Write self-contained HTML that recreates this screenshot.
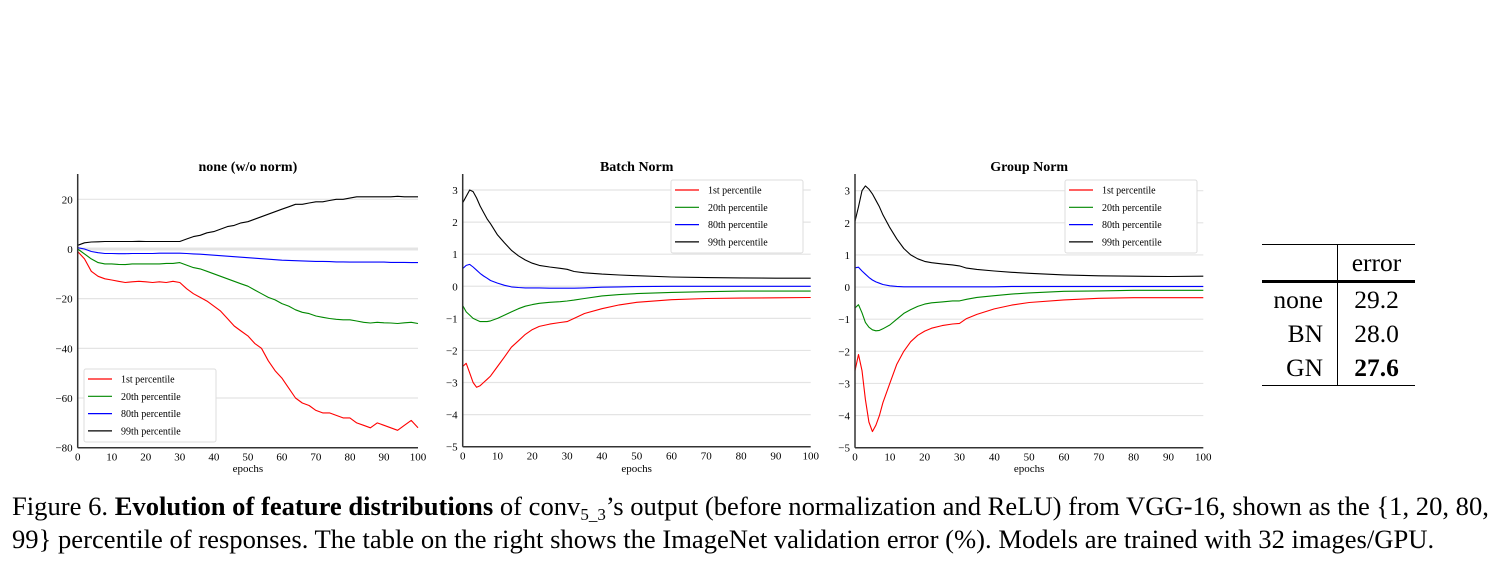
<!DOCTYPE html>
<html><head><meta charset="utf-8"><style>
body{margin:0;background:#fff;width:1504px;height:580px;overflow:hidden;font-family:"Liberation Serif",serif;}
svg{position:absolute;left:0;top:0}
.cap{position:absolute;left:12px;font-size:26.6px;color:#000;white-space:nowrap;line-height:1}
table{position:absolute;left:1262px;top:244px;border-collapse:collapse;font-size:25.5px;width:153px}
td{padding:0;line-height:1}
</style></head><body>
<svg id="s" width="1504" height="580"></svg>
<table style="border-top:1.5px solid #000;border-bottom:1.5px solid #000">
<tr style="height:37px;border-bottom:3px solid #000"><td style="border-right:1.5px solid #000;width:75px"></td><td style="text-align:center">error</td></tr>
<tr style="height:35px"><td style="text-align:right;padding-right:14px;border-right:1.5px solid #000">none</td><td style="text-align:center">29.2</td></tr>
<tr style="height:34px"><td style="text-align:right;padding-right:14px;border-right:1.5px solid #000">BN</td><td style="text-align:center">28.0</td></tr>
<tr style="height:35px"><td style="text-align:right;padding-right:14px;border-right:1.5px solid #000">GN</td><td style="text-align:center;font-weight:bold">27.6</td></tr>
</table>
<div class="cap" style="top:493px">Figure 6. <b>Evolution of feature distributions</b> of conv<span style="font-size:17px;position:relative;top:5px">5_3</span>’s output (before normalization and ReLU) from VGG-16, shown as the {1, 20, 80,</div>
<div class="cap" style="top:526px">99} percentile of responses. The table on the right shows the ImageNet validation error (%). Models are trained with 32 images/GPU.</div>
<script>
const epochsA=[0,2,4,6,8,10,12,14,16,18,20,22,24,26,28,30,32,34,36,38,40,42,44,46,48,50,52,54,56,58,60,62,64,66,68,70,72,74,76,78,80,82,84,86,88,90,92,94,96,98,100];
const noneP1=[-1,-4,-9,-11,-12,-12.5,-13,-13.5,-13.2,-13,-13.2,-13.5,-13.2,-13.5,-13,-13.5,-16,-18,-19.5,-21,-23,-25,-28,-31,-33,-35,-38,-40,-45,-49,-52,-56,-60,-62,-63,-65,-66,-66,-67,-68,-68,-70,-71,-72,-70,-71,-72,-73,-71,-69,-72];
const noneP20=[0,-2,-4,-5.5,-6,-6,-6.2,-6.3,-6,-6,-6,-6,-6,-5.8,-5.8,-5.5,-6.5,-7.5,-8,-9,-10,-11,-12,-13,-14,-15,-16.5,-18,-19.5,-20.5,-22,-23,-24.5,-25.5,-26,-27,-27.5,-28,-28.3,-28.5,-28.5,-29,-29.5,-29.8,-29.5,-29.7,-29.8,-30,-29.7,-29.5,-30];
const noneP80=[0.5,0,-1,-1.5,-1.8,-1.8,-1.9,-1.9,-1.8,-1.8,-1.8,-1.8,-1.7,-1.7,-1.7,-1.7,-1.8,-2,-2.1,-2.3,-2.5,-2.7,-2.9,-3.1,-3.3,-3.5,-3.7,-3.9,-4.1,-4.3,-4.5,-4.6,-4.7,-4.8,-4.9,-5,-5,-5.1,-5.2,-5.2,-5.3,-5.3,-5.3,-5.3,-5.3,-5.3,-5.4,-5.4,-5.4,-5.5,-5.5];
const noneP99=[1.5,2.5,2.8,2.9,3,3,3,3,3,3.1,3,3,3,3,3,3,4,5,5.5,6.5,7,8,9,9.5,10.5,11,12,13,14,15,16,17,18,18,18.5,19,19,19.5,20,20,20.5,21,21,21,21,21,21,21.2,21,21,21];
const epochsB=[0,1,2,3,4,5,6,7,8,10,12,14,16,18,20,22,25,28,30,32,35,40,45,50,60,70,80,90,100];
const bnP1=[-2.5,-2.4,-2.7,-3,-3.15,-3.1,-3.0,-2.9,-2.8,-2.5,-2.2,-1.9,-1.7,-1.5,-1.35,-1.25,-1.18,-1.13,-1.1,-1.0,-0.85,-0.7,-0.58,-0.5,-0.42,-0.38,-0.37,-0.36,-0.35];
const bnP20=[-0.6,-0.8,-0.9,-1.0,-1.05,-1.1,-1.1,-1.1,-1.08,-1.0,-0.9,-0.8,-0.7,-0.62,-0.57,-0.53,-0.5,-0.48,-0.46,-0.43,-0.38,-0.3,-0.26,-0.23,-0.19,-0.17,-0.15,-0.15,-0.15];
const bnP80=[0.55,0.65,0.68,0.6,0.5,0.4,0.32,0.25,0.18,0.1,0.03,-0.02,-0.04,-0.05,-0.05,-0.05,-0.06,-0.06,-0.06,-0.06,-0.05,-0.03,-0.02,-0.01,0,0,0,0,0];
const bnP99=[2.6,2.8,3.0,2.95,2.75,2.5,2.3,2.1,1.95,1.6,1.35,1.12,0.95,0.82,0.72,0.65,0.6,0.56,0.53,0.46,0.42,0.38,0.35,0.33,0.29,0.27,0.26,0.25,0.25];
const gnP1=[-2.6,-2.1,-2.6,-3.5,-4.2,-4.5,-4.3,-4.0,-3.6,-3.0,-2.4,-2.0,-1.7,-1.5,-1.37,-1.28,-1.2,-1.15,-1.13,-0.98,-0.85,-0.68,-0.56,-0.48,-0.4,-0.35,-0.33,-0.33,-0.33];
const gnP20=[-0.65,-0.55,-0.8,-1.1,-1.25,-1.33,-1.36,-1.35,-1.3,-1.18,-1.0,-0.82,-0.7,-0.6,-0.53,-0.49,-0.46,-0.43,-0.43,-0.38,-0.32,-0.27,-0.22,-0.18,-0.13,-0.12,-0.1,-0.1,-0.1];
const gnP80=[0.6,0.62,0.5,0.4,0.3,0.22,0.16,0.12,0.08,0.04,0.02,0.01,0.01,0.01,0.01,0.01,0.01,0.01,0.01,0.01,0.01,0.01,0.02,0.02,0.02,0.02,0.02,0.02,0.02];
const gnP99=[2.05,2.5,3.0,3.15,3.05,2.9,2.7,2.5,2.25,1.85,1.5,1.2,1.0,0.88,0.8,0.76,0.72,0.69,0.66,0.59,0.55,0.5,0.46,0.43,0.38,0.35,0.34,0.33,0.34];
const xTicks=[0,10,20,30,40,50,60,70,80,90,100];
const yTicksA=[20,0,-20,-40,-60,-80];
const yTicksB=[3,2,1,0,-1,-2,-3,-4,-5];
const legendLabels=["1st percentile","20th percentile","80th percentile","99th percentile"];
const colors=["#f00","#080","#00f","#000"];
const NS="http://www.w3.org/2000/svg";
const svg=document.getElementById('s');
function mk(t,a,p){const e=document.createElementNS(NS,t);for(const k in a)e.setAttribute(k,a[k]);(p||svg).appendChild(e);return e;}
const charts=[
 {name:"none",title:"none (w/o norm)",x0:77.7,x1:418,yv0:20,yp0:199.3,yv1:-80,yp1:447.7,top:174,ticks:yTicksA,ep:epochsA,series:[noneP1,noneP20,noneP80,noneP99],leg:[84,369]},
 {name:"batch-norm",title:"Batch Norm",x0:462.7,x1:810.7,yv0:3,yp0:190,yv1:-5,yp1:446.7,top:174,ticks:yTicksB,ep:epochsB,series:[bnP1,bnP20,bnP80,bnP99],leg:[671,180]},
 {name:"group-norm",title:"Group Norm",x0:855,x1:1203.3,yv0:3,yp0:190.7,yv1:-5,yp1:447.7,top:174,ticks:yTicksB,ep:epochsB,series:[gnP1,gnP20,gnP80,gnP99],leg:[1065,180]}
];
charts.forEach(c=>{
 const g=mk('g',{});
 
 
 const X=v=>c.x0+(v/100)*(c.x1-c.x0);
 const Y=v=>c.yp0+(v-c.yv0)/(c.yv1-c.yv0)*(c.yp1-c.yp0);
 c.ticks.forEach(t=>{
  const y=Y(t);
  const gl=mk('line',{x1:c.x0,x2:c.x1,y1:y,y2:y,stroke:'#e4e4e4','stroke-width':t===0&&c.name==='none'?3:1.2},g);
  
  
  const tl=mk('text',{x:c.x0-5,y:y+4,'text-anchor':'end','font-size':11,'font-family':'Liberation Serif, serif'},g);
  tl.textContent=(t<0?'−':'')+Math.abs(t);
  
  
 });
 xTicks.forEach(t=>{
  const tl=mk('text',{x:X(t),y:c.yp1+13,'text-anchor':'middle','font-size':11,'font-family':'Liberation Serif, serif'},g);
  tl.textContent=t;
  
  
 });
 c.series.forEach((s,i)=>{
  const pts=s.map((v,j)=>X(c.ep[j]).toFixed(1)+','+Y(v).toFixed(1)).join(' ');
  const pl=mk('polyline',{points:pts,fill:'none',stroke:colors[i],'stroke-width':1.1,'stroke-linejoin':'round'},g);
  
  
 });
 mk('line',{x1:c.x0,x2:c.x0,y1:c.top,y2:c.yp1,stroke:'#333','stroke-width':1.5},g);
 mk('line',{x1:c.x0,x2:c.x1,y1:c.yp1,y2:c.yp1,stroke:'#333','stroke-width':1.5},g);
 const tt=mk('text',{x:(c.x0+c.x1)/2,y:171,'text-anchor':'middle','font-size':14,'font-weight':'bold','font-family':'Liberation Serif, serif'},g);
 tt.textContent=c.title;
 
 
 const xl=mk('text',{x:(c.x0+c.x1)/2,y:472,'text-anchor':'middle','font-size':11,'font-family':'Liberation Serif, serif'},g);
 xl.textContent='epochs';
 
 
 const [lx,ly]=c.leg;
 const lg=mk('g',{},g);
 
 
 mk('rect',{x:lx,y:ly,width:132,height:73,fill:'#fff',stroke:'#ddd','stroke-width':1,rx:2},lg);
 legendLabels.forEach((l,i)=>{
  const yy=ly+10+i*17.3;
  mk('line',{x1:lx+4,x2:lx+28,y1:yy,y2:yy,stroke:colors[i],'stroke-width':1.2},lg);
  const t=mk('text',{x:lx+37,y:yy+3.5,'font-size':10,'font-family':'Liberation Serif, serif'},lg);
  t.textContent=l;
  
  
 });
});
</script>
</body></html>
